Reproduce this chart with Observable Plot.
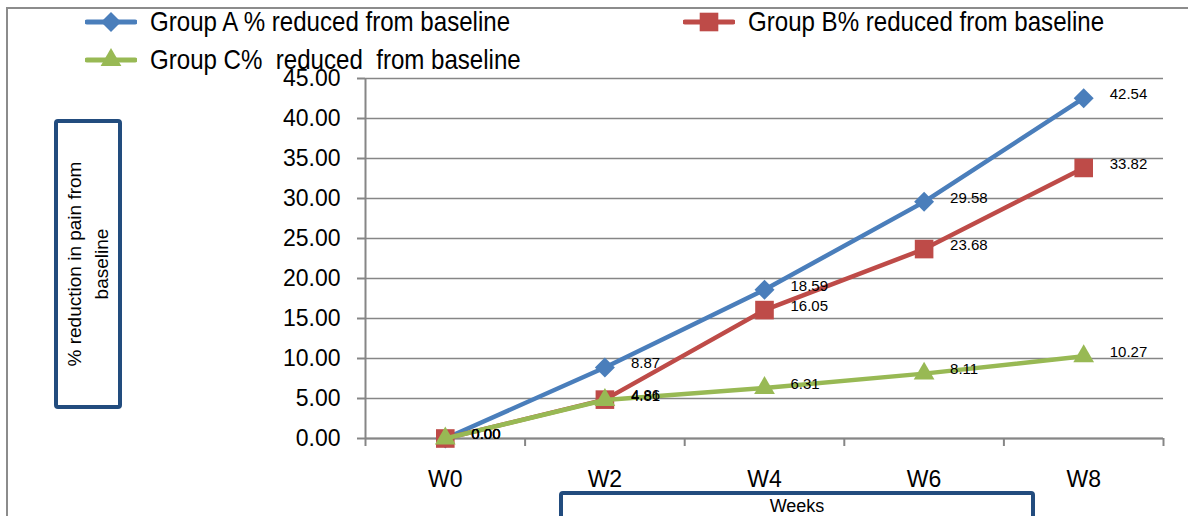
<!DOCTYPE html>
<html>
<head>
<meta charset="utf-8">
<script src="https://cdn.jsdelivr.net/npm/d3@7"></script>
<script src="https://cdn.jsdelivr.net/npm/@observablehq/plot@0.6"></script>
<style>
  body { margin: 0; background: #fff; }
  #wrap { position: relative; width: 1188px; height: 516px; overflow: hidden; background: #fff;
          font-family: "Liberation Sans", Arial, sans-serif; color: #000; }
  #frame { position: absolute; left: 6px; top: 7px; width: 1400px; height: 700px;
           border: 2px solid #8c8c8c; box-sizing: border-box; }
  #chart { position: absolute; left: 0; top: 0; }
  .legend-item { position: absolute; height: 36px; display: flex; align-items: center; white-space: pre; }
  .legend-item svg { margin-right: 13px; flex: none; }
  .legend-item span { display: inline-block; font-size: 28px; transform: scaleX(0.86); transform-origin: 0 50%; }
  .titlebox { position: absolute; border: 4px solid #224C7E; border-radius: 4px; box-sizing: border-box;
              background: #fff; }
  #ytitle { left: 54px; top: 119px; width: 68px; height: 290px; }
  #ytitle div { position: absolute; left: 50%; top: 50%; width: 270px; text-align: center;
                font-size: 19px; line-height: 27px; transform: translate(-50%, -50%) rotate(-90deg); }
  #xtitle { left: 559px; top: 491px; width: 476px; height: 60px; text-align: center;
            font-size: 18px; line-height: 22px; }
</style>
</head>
<body>
<div id="wrap">
  <div id="frame"></div>
  <div id="chart"></div>
  <div id="legend"></div>
  <div id="ytitle" class="titlebox"><div>% reduction in pain from<br>baseline</div></div>
  <div id="xtitle" class="titlebox">Weeks</div>
</div>
<script>
// Weeks of follow-up and the % pain reduction from baseline for each group
const weeks = ["W0", "W2", "W4", "W6", "W8"];
const groupA = [0.00, 8.87, 18.59, 29.58, 42.54];
const groupB = [0.00, 4.86, 16.05, 23.68, 33.82];
const groupC = [0.00, 4.81, 6.31, 8.11, 10.27];
const yTicks = [0, 5, 10, 15, 20, 25, 30, 35, 40, 45];

const seriesNames = [
  "Group A % reduced from baseline",
  "Group B% reduced from baseline",
  "Group C%  reduced  from baseline"
];
const seriesColors = ["#4A7EBB", "#BE4B48", "#98B954"];
const seriesSymbols = ["diamond2", "square", "triangle"];
const seriesR = [9, 10.5, 7.7];

const seriesValues = [groupA, groupB, groupC];
const rows = seriesValues.flatMap((vals, s) =>
  vals.map((v, i) => ({ series: s, i, week: weeks[i], value: v }))
);
// each week sits in the middle of its own slot on the x axis
const xPos = d => d.i + 0.5;

const grid = "#868686";
const marks = [
  Plot.gridY(yTicks, { stroke: grid, strokeOpacity: 1, strokeWidth: 1.6 }),
  Plot.ruleX([0], { stroke: grid, strokeWidth: 2 }),
  Plot.ruleY([0], { stroke: grid, strokeWidth: 2 }),
  Plot.axisY(yTicks, {
    tickSize: 8, tickPadding: 17, stroke: grid, strokeWidth: 2, fill: "#000",
    fontSize: 23, tickFormat: d => d.toFixed(2), label: null
  }),
  // boundary ticks between the week slots
  Plot.axisX(d3.range(weeks.length + 1), {
    tickSize: 8, stroke: grid, strokeWidth: 2, tickFormat: () => "", label: null
  }),
  // week names in the centre of each slot
  Plot.axisX(weeks.map((w, i) => i + 0.5), {
    tickSize: 0, tickPadding: 32, fill: "#000", fontSize: 23,
    tickFormat: d => weeks[Math.round(d - 0.5)], label: null
  })
];

seriesValues.forEach((vals, s) => {
  const data = rows.filter(d => d.series === s);
  marks.push(
    Plot.line(data, { x: xPos, y: "value", stroke: seriesColors[s], strokeWidth: 4.5, strokeLinejoin: "round" }),
    Plot.dot(data, { x: xPos, y: "value", symbol: seriesSymbols[s], r: seriesR[s], fill: seriesColors[s], stroke: "none" })
  );
});
seriesValues.forEach((vals, s) => {
  const data = rows.filter(d => d.series === s);
  marks.push(
    Plot.text(data, {
      x: xPos, y: "value", text: d => d.value.toFixed(2), dx: 26, dy: -4,
      textAnchor: "start", fontSize: 15, fill: "#000"
    })
  );
});

const chart = Plot.plot({
  width: 1188,
  height: 516,
  marginLeft: 365,
  marginRight: 25,
  marginTop: 78,
  marginBottom: 78,
  style: { background: "transparent", fontFamily: "Liberation Sans, Arial, sans-serif", color: "#000" },
  x: { type: "linear", domain: [0, weeks.length], axis: null },
  y: { type: "linear", domain: [0, 45], axis: null },
  marks
});
document.getElementById("chart").appendChild(chart);

// legend with a line-and-marker swatch for each group
const legendPos = [[85, 4], [683, 4], [85, 42]];
const legend = document.getElementById("legend");
seriesNames.forEach((name, s) => {
  const item = document.createElement("div");
  item.className = "legend-item";
  item.style.left = legendPos[s][0] + "px";
  item.style.top = legendPos[s][1] + "px";
  const sw = d3.create("svg").attr("width", 52).attr("height", 24);
  sw.append("line").attr("x1", 2).attr("x2", 50).attr("y1", 12).attr("y2", 12)
    .attr("stroke", seriesColors[s]).attr("stroke-width", 5).attr("stroke-linecap", "round");
  const sym = [d3.symbolDiamond2, d3.symbolSquare, d3.symbolTriangle][s];
  sw.append("path")
    .attr("d", d3.symbol(sym, Math.PI * seriesR[s] * seriesR[s])())
    .attr("transform", "translate(26,12)")
    .attr("fill", seriesColors[s]);
  item.appendChild(sw.node());
  const label = document.createElement("span");
  label.textContent = name;
  item.appendChild(label);
  legend.appendChild(item);
});
</script>
</body>
</html>
